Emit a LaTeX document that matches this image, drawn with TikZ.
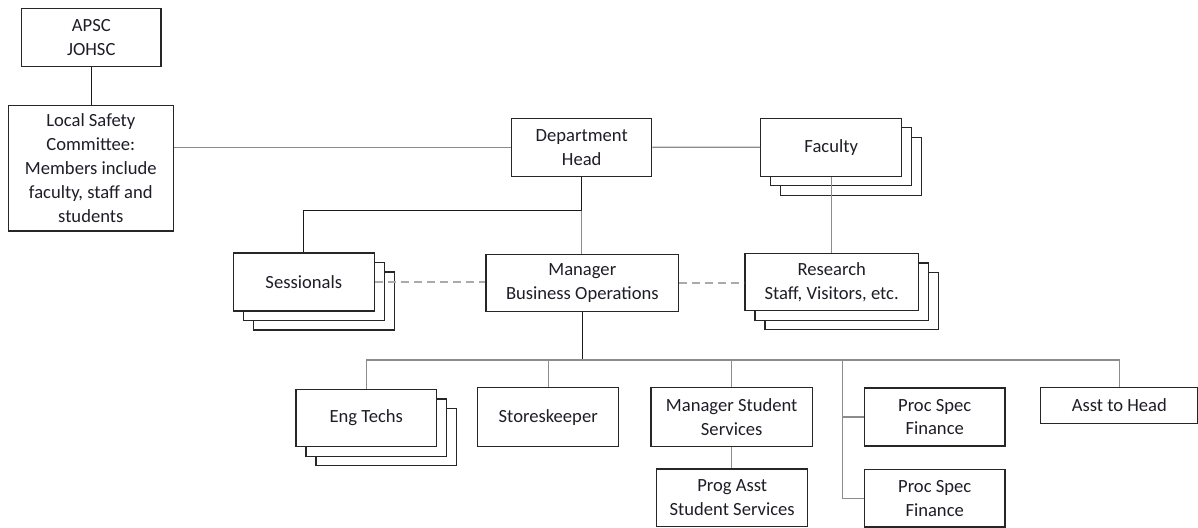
\documentclass[tikz,border=0pt]{standalone}
\usepackage{fontspec}
\setmainfont{Carlito}
\usetikzlibrary{shadows}
\definecolor{boxc}{HTML}{262626}
\definecolor{linec}{HTML}{8C8C8C}
\definecolor{dashc}{HTML}{AAAAAA}
\definecolor{darkc}{HTML}{1A1A1A}
\definecolor{txt}{HTML}{1E1E28}
\begin{document}
\begin{tikzpicture}[x=1pt,y=-1pt,
  box/.style={draw=boxc, line width=1.4pt, fill=white, align=center, inner sep=0pt,
    font=\fontsize{18.6}{23.8}\selectfont, text=txt},
  stackbox/.style={box,
    copy shadow={shadow xshift=20pt, shadow yshift=-19pt, draw=boxc, line width=1.4pt, fill=white},
    copy shadow={shadow xshift=10pt, shadow yshift=-9.5pt, draw=boxc, line width=1.4pt, fill=white}},
  darkline/.style={draw=darkc, line width=1.3pt},
  lightline/.style={draw=linec, line width=1.4pt},
  dashlink/.style={draw=dashc, line width=2.4pt, dash pattern=on 8pt off 5pt}
]
\useasboundingbox (0,0) rectangle (1198,527);

\node[box, minimum width=139.3pt, minimum height=58.3pt] (apsc) at (91.3,37.5) {APSC\\JOHSC};
\node[box, minimum width=165pt, minimum height=125.7pt] (lsc) at (90.8,168.2)
  {Local Safety\\Committee:\\Members include\\faculty, staff and\\students};
\node[box, minimum width=140pt, minimum height=58pt] (head) at (581.7,147.3) {Department\\Head};
\node[stackbox, minimum width=141pt, minimum height=58pt] (faculty) at (831.2,147.2) {Faculty};
\node[stackbox, minimum width=141pt, minimum height=58pt] (sess) at (303.8,281.8) {Sessionals};
\node[box, minimum width=192.7pt, minimum height=57.4pt] (mgr) at (582.3,283) {Manager\\Business Operations};
\node[stackbox, minimum width=173.3pt, minimum height=57.4pt] (res) at (831.7,282) {Research\\Staff, Visitors, etc.};
\node[stackbox, minimum width=140.7pt, minimum height=57.4pt] (eng) at (366.3,418) {Eng Techs};
\node[box, minimum width=141pt, minimum height=59pt] (store) at (548.2,417.2) {Storeskeeper};
\node[box, minimum width=161.3pt, minimum height=59pt] (mss) at (731.7,417.2) {Manager Student\\Services};
\node[box, minimum width=151pt, minimum height=57.5pt] (prog) at (732.2,497.8) {Prog Asst\\Student Services};
\node[box, minimum width=140.7pt, minimum height=58.3pt] (proc1) at (934.7,417) {Proc Spec\\Finance};
\node[box, minimum width=140.7pt, minimum height=57.7pt] (proc2) at (934.7,498.2) {Proc Spec\\Finance};
\node[box, minimum width=157.5pt, minimum height=35.6pt] (asst) at (1119.3,405.5) {Asst to Head};

\coordinate (br) at (581.7,210.5);
\coordinate (bus) at (581.7,360);
\coordinate (pv) at (842.7,360);

\draw[darkline] (apsc.south) -- (apsc.south |- lsc.north);
\draw[lightline] (head.west -| lsc.east) -- (head.west);
\draw[lightline] (head.east) -- (faculty.west);
\draw[darkline] (head.south) -- (br);
\draw[darkline] (br) -| (sess.north);
\draw[lightline] (br) -- (br |- mgr.north);
\draw[lightline] (faculty.south) -- (faculty.south |- res.north);
\draw[dashlink] (sess.east) -- (sess.east -| mgr.west);
\draw[dashlink] (mgr.east) -- (mgr.east -| res.west);
\draw[darkline] (mgr.south) -- (mgr.south |- bus);
\draw[lightline] (eng.north) -- (eng.north |- bus) -- (asst.north |- bus) -- (asst.north);
\draw[lightline] (store.north) -- (store.north |- bus);
\draw[lightline] (mss.north) -- (mss.north |- bus);
\draw[lightline] (pv) |- (proc2.west);
\draw[lightline] (pv |- proc1.west) -- (proc1.west);
\draw[lightline] (mss.south) -- (mss.south |- prog.north);
\end{tikzpicture}
\end{document}
